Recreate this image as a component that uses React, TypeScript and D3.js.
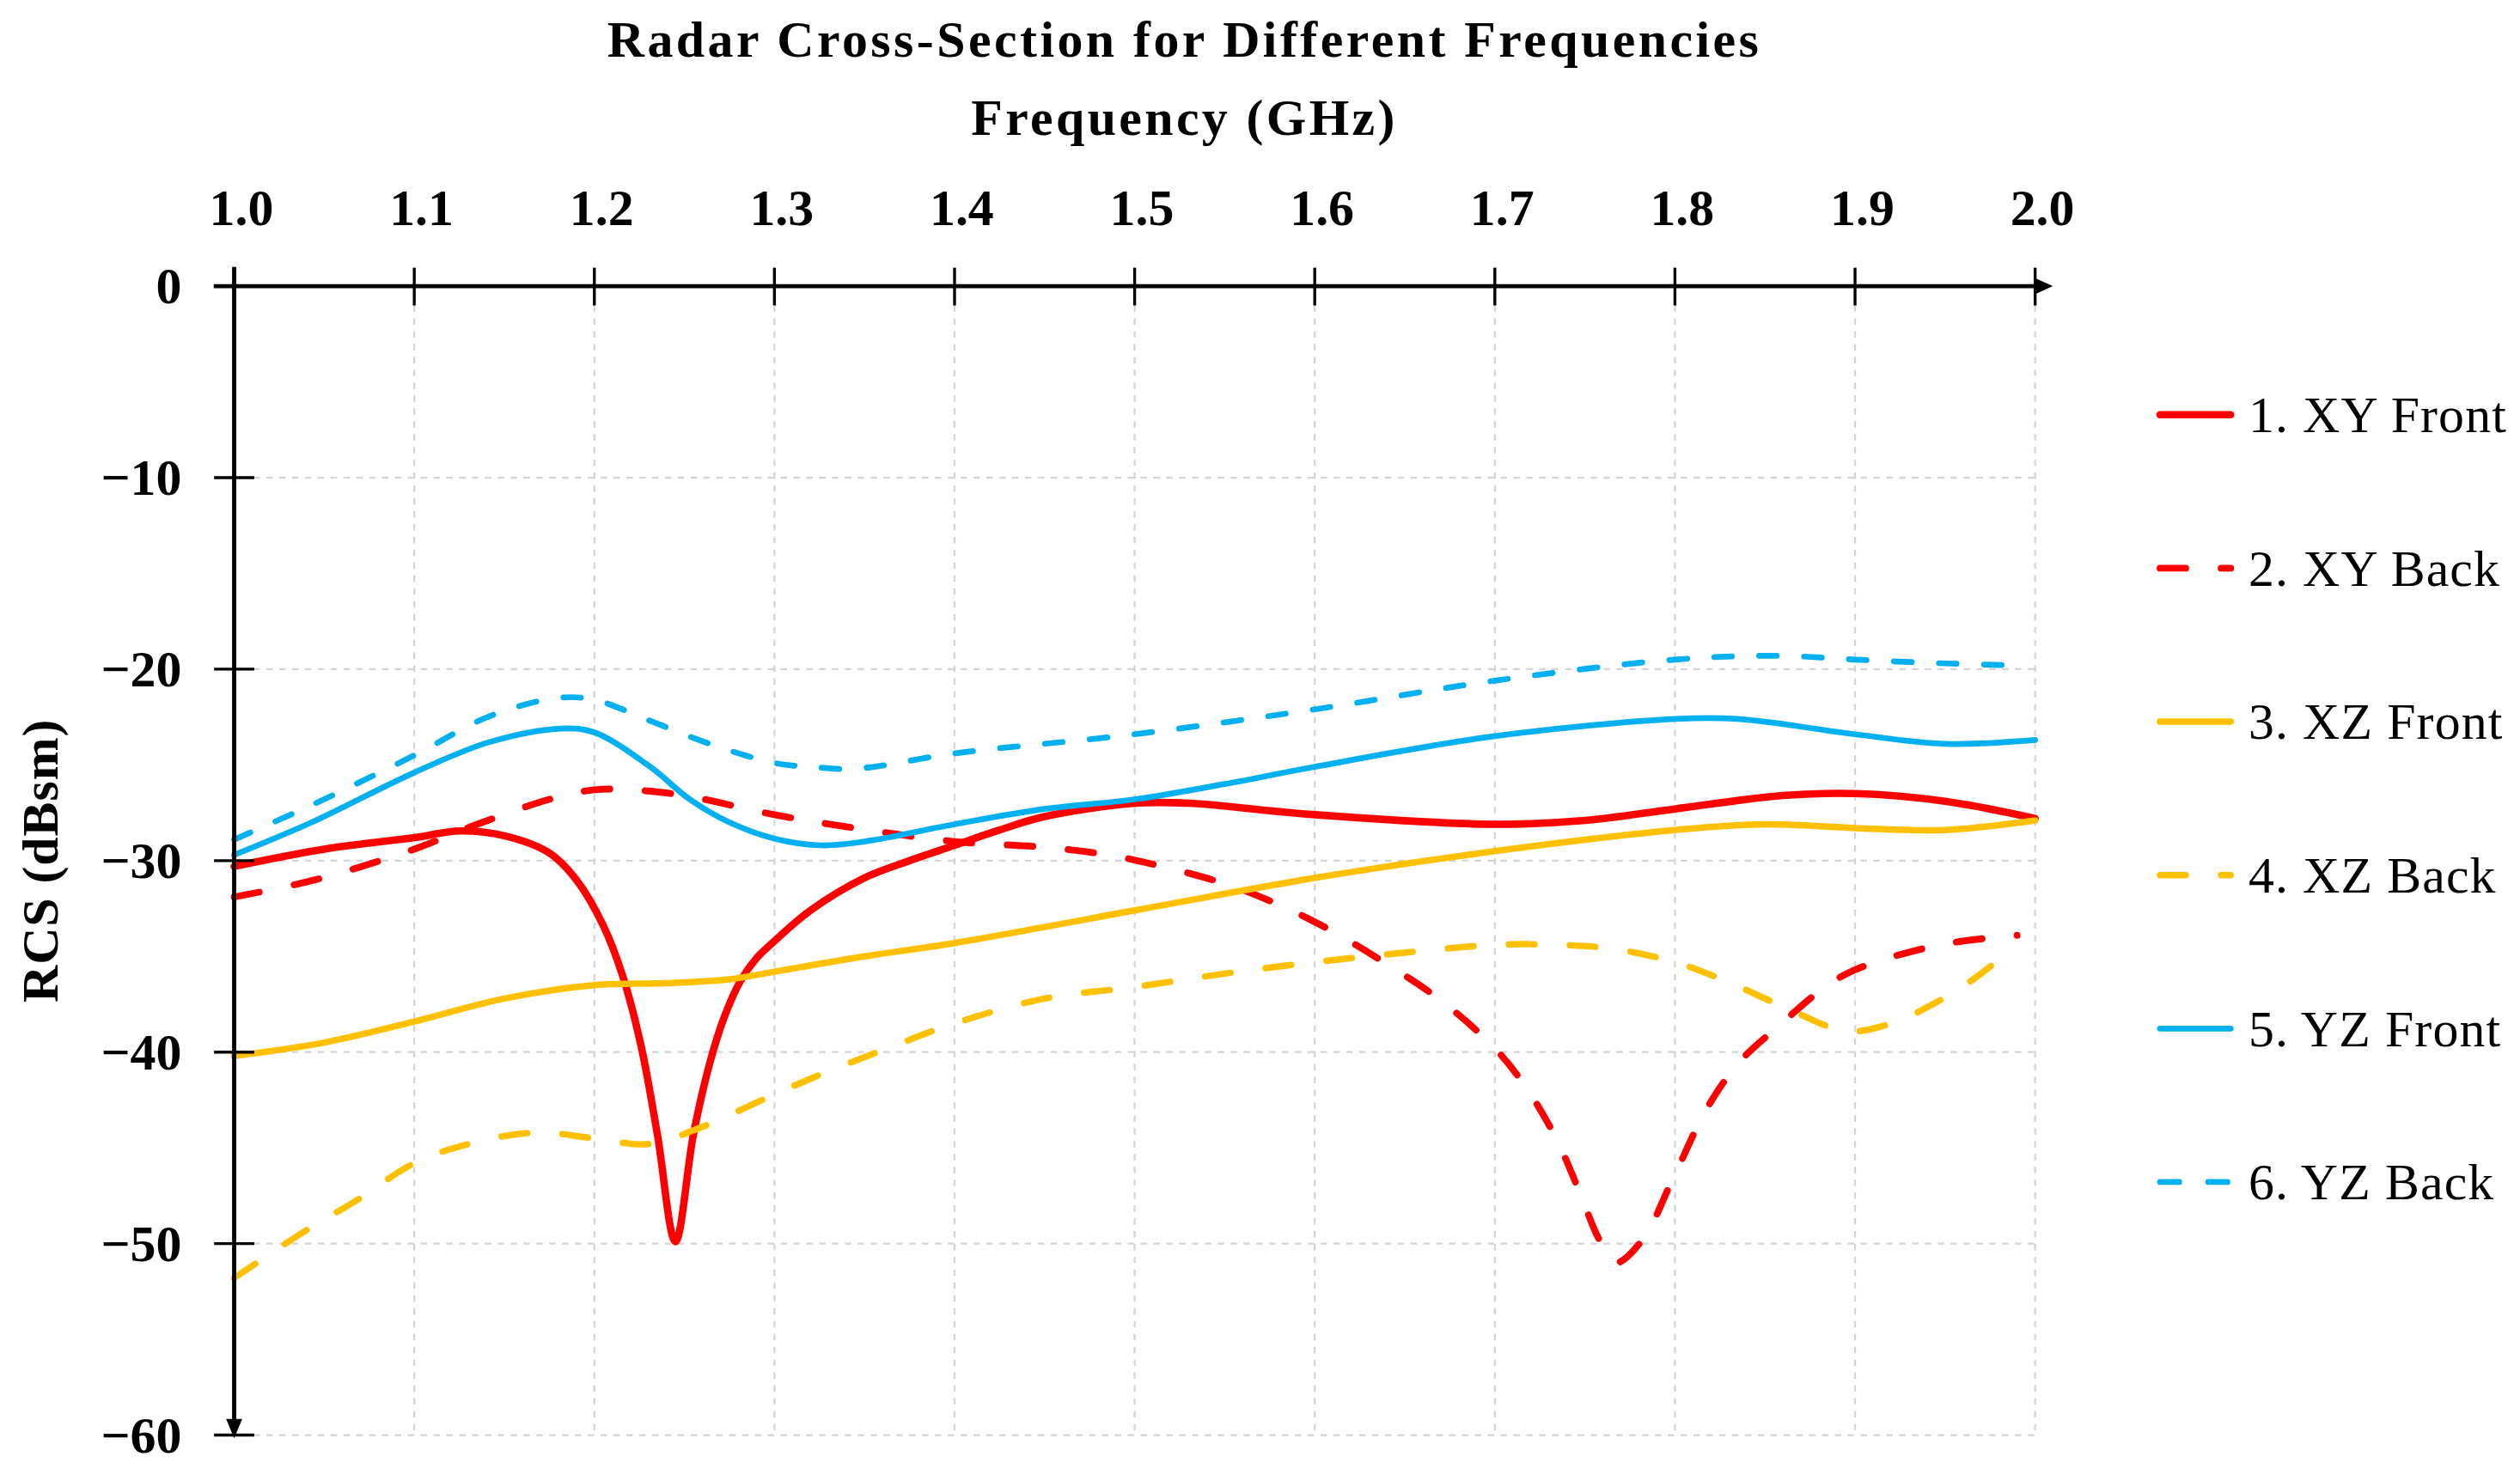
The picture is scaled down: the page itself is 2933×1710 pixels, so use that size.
import { useEffect, useRef } from 'react'
import * as d3 from 'd3'

type Pt = [number, number] // [frequency GHz, RCS dBsm]

const freqTicks = [1.0, 1.1, 1.2, 1.3, 1.4, 1.5, 1.6, 1.7, 1.8, 1.9, 2.0]
const rcsTicks = [0, -10, -20, -30, -40, -50, -60]

const xyFront: Pt[] = [
  [1.0, -30.3], [1.05, -29.4], [1.1, -28.8], [1.125, -28.45], [1.15, -28.7],
  [1.175, -29.6], [1.19, -31.0], [1.205, -33.4], [1.216, -36.1], [1.226, -39.7],
  [1.235, -44.3], [1.245, -49.9], [1.255, -44.3], [1.264, -40.6], [1.272, -38.2],
  [1.281, -36.3], [1.29, -35.1], [1.3, -34.2], [1.32, -32.6], [1.35, -30.9],
  [1.375, -30.0], [1.4, -29.2], [1.425, -28.4], [1.45, -27.7], [1.5, -27.0],
  [1.53, -27.0], [1.6, -27.6], [1.7, -28.1], [1.75, -27.9], [1.8, -27.3],
  [1.86, -26.6], [1.9, -26.5], [1.95, -26.9], [2.0, -27.8],
]

const xyBack: Pt[] = [
  [1.0, -31.9], [1.045, -31.0], [1.1, -29.4], [1.135, -28.1], [1.175, -26.8],
  [1.2, -26.3], [1.22, -26.3], [1.25, -26.6], [1.3, -27.6], [1.345, -28.3],
  [1.4, -29.0], [1.45, -29.3], [1.485, -29.7], [1.515, -30.3], [1.55, -31.2],
  [1.58, -32.3], [1.61, -33.7], [1.64, -35.4], [1.67, -37.3], [1.7, -39.8],
  [1.717, -41.8], [1.734, -44.5], [1.747, -47.3], [1.758, -49.8], [1.767, -51.0],
  [1.782, -49.8], [1.798, -46.8], [1.818, -42.9], [1.836, -40.5], [1.858, -38.6],
  [1.882, -36.7], [1.9, -35.7], [1.947, -34.4], [1.99, -33.9],
]

const xzFront: Pt[] = [
  [1.0, -40.2], [1.05, -39.5], [1.1, -38.4], [1.15, -37.2], [1.2, -36.5],
  [1.24, -36.4], [1.275, -36.2], [1.3, -35.8], [1.35, -35.0], [1.4, -34.3],
  [1.5, -32.6], [1.6, -30.9], [1.7, -29.5], [1.8, -28.4], [1.85, -28.1],
  [1.9, -28.3], [1.95, -28.4], [2.0, -27.9],
]

const xzBack: Pt[] = [
  [1.0, -51.8], [1.04, -49.3], [1.067, -47.8], [1.1, -45.8], [1.13, -44.8],
  [1.167, -44.2], [1.2, -44.5], [1.23, -44.8], [1.26, -43.9], [1.3, -42.2],
  [1.33, -41.0], [1.36, -39.9], [1.4, -38.5], [1.45, -37.2], [1.5, -36.6],
  [1.55, -35.9], [1.6, -35.3], [1.64, -34.9], [1.7, -34.4], [1.736, -34.4],
  [1.765, -34.6], [1.8, -35.3], [1.831, -36.4], [1.862, -37.7], [1.895, -38.9],
  [1.92, -38.5], [1.947, -37.3], [1.97, -35.9], [1.99, -34.3],
]

const yzFront: Pt[] = [
  [1.0, -29.7], [1.043, -28.0], [1.1, -25.4], [1.142, -23.8], [1.182, -23.1],
  [1.2, -23.3], [1.231, -25.1], [1.253, -26.8], [1.275, -28.0], [1.3, -28.85],
  [1.326, -29.2], [1.35, -29.0], [1.4, -28.1], [1.45, -27.3], [1.5, -26.8],
  [1.55, -26.0], [1.6, -25.1], [1.7, -23.5], [1.8, -22.6], [1.835, -22.6],
  [1.9, -23.4], [1.95, -23.9], [2.0, -23.7],
]

const yzBack: Pt[] = [
  [1.0, -28.9], [1.043, -27.1], [1.1, -24.5], [1.142, -22.45], [1.18, -21.5],
  [1.2, -21.6], [1.231, -22.7], [1.264, -23.9], [1.3, -24.9], [1.32, -25.1],
  [1.345, -25.2], [1.4, -24.4], [1.5, -23.4], [1.6, -22.1], [1.7, -20.6],
  [1.8, -19.5], [1.857, -19.3], [1.9, -19.5], [1.95, -19.7], [1.99, -19.8],
]

const seriesNames = ['1. XY Front', '2. XY Back', '3. XZ Front', '4. XZ Back', '5. YZ Front', '6. YZ Back']

const RED = '#ff0000'
const GOLD = '#ffc000'
const BLUE = '#00b0f0'

const series = [
  { name: seriesNames[0], data: xyFront, color: RED, width: 4.6, dash: null, legendDash: null },
  { name: seriesNames[1], data: xyBack, color: RED, width: 4.2, dash: '16 22', legendDash: '16 22' },
  { name: seriesNames[2], data: xzFront, color: GOLD, width: 4.0, dash: null, legendDash: null },
  { name: seriesNames[3], data: xzBack, color: GOLD, width: 4.0, dash: '16 22', legendDash: '16 22' },
  { name: seriesNames[4], data: yzFront, color: BLUE, width: 3.6, dash: null, legendDash: null },
  { name: seriesNames[5], data: yzBack, color: BLUE, width: 3.6, dash: '11 17', legendDash: '12 18' },
]

const FONT = "'Palatino Linotype', 'Book Antiqua', Palatino, 'Liberation Serif', serif"

export default function App() {
  const svgRef = useRef<SVGSVGElement>(null)

  useEffect(() => {
    if (!svgRef.current) return
    const vw = 1568
    const vh = 914

    const svg = d3.select(svgRef.current)
    svg.selectAll('*').remove()
    svg
      .attr('width', 2933)
      .attr('height', 1710)
      .attr('viewBox', `0 0 ${vw} ${vh}`)
      .style('position', 'absolute')
      .style('left', '0px')
      .style('top', '0px')
      .style('background', '#ffffff')

    const x = d3.scaleLinear().domain([1.0, 2.0]).range([145.7, 1266.3])
    const y = d3.scaleLinear().domain([0, -60]).range([178, 893])

    const g = svg.append('g').attr('font-family', FONT)

    // Titles
    g.append('text')
      .attr('x', 737)
      .attr('y', 35)
      .attr('text-anchor', 'middle')
      .attr('font-size', 32)
      .attr('font-weight', 700)
      .attr('letter-spacing', 1.85)
      .text('Radar Cross-Section for Different Frequencies')

    g.append('text')
      .attr('x', 737)
      .attr('y', 84)
      .attr('text-anchor', 'middle')
      .attr('font-size', 32)
      .attr('font-weight', 700)
      .attr('letter-spacing', 1.8)
      .text('Frequency (GHz)')

    g.append('text')
      .attr('transform', `translate(36,${(y(-25) + y(-35)) / 2}) rotate(-90)`)
      .attr('text-anchor', 'middle')
      .attr('font-size', 32)
      .attr('font-weight', 700)
      .attr('letter-spacing', 0.5)
      .text('RCS (dBsm)')

    // Grid
    const grid = g.append('g').attr('stroke', '#d4d4d4').attr('stroke-width', 1.2).attr('stroke-dasharray', '4 4')
    grid
      .selectAll('line.vg')
      .data(freqTicks.slice(1))
      .join('line')
      .attr('x1', (d) => x(d))
      .attr('x2', (d) => x(d))
      .attr('y1', y(0) + 12)
      .attr('y2', y(-60))
    grid
      .selectAll('line.hg')
      .data(rcsTicks.slice(1))
      .join('line')
      .attr('x1', x(1.0) + 12)
      .attr('x2', x(2.0))
      .attr('y1', (d) => y(d))
      .attr('y2', (d) => y(d))

    // Series
    const line = d3
      .line<Pt>()
      .x((d) => x(d[0]))
      .y((d) => y(d[1]))
      .curve(d3.curveCatmullRom.alpha(0.5))

    series.forEach((s) => {
      g.append('path')
        .datum(s.data)
        .attr('d', line)
        .attr('fill', 'none')
        .attr('stroke', s.color)
        .attr('stroke-width', s.width)
        .attr('stroke-linecap', 'round')
        .attr('stroke-linejoin', 'round')
        .attr('stroke-dasharray', s.dash)
    })

    // Axes
    const axis = g.append('g').attr('stroke', '#000')
    axis.append('line')
      .attr('x1', 133).attr('x2', x(2.0) + 2)
      .attr('y1', y(0)).attr('y2', y(0))
      .attr('stroke-width', 2.6)
    axis.append('path')
      .attr('d', `M${x(2.0)},${y(0) - 5} L${x(2.0) + 11},${y(0)} L${x(2.0)},${y(0) + 5} Z`)
      .attr('fill', '#000')
      .attr('stroke', 'none')
    axis.append('line')
      .attr('x1', x(1.0)).attr('x2', x(1.0))
      .attr('y1', y(0) - 12).attr('y2', y(-60) - 4)
      .attr('stroke-width', 2.6)
    axis.append('path')
      .attr('d', `M${x(1.0) - 5},${y(-60) - 10} L${x(1.0)},${y(-60) + 2} L${x(1.0) + 5},${y(-60) - 10} Z`)
      .attr('fill', '#000')
      .attr('stroke', 'none')

    axis.selectAll('line.xt')
      .data(freqTicks.slice(1))
      .join('line')
      .attr('x1', (d) => x(d)).attr('x2', (d) => x(d))
      .attr('y1', y(0) - 11.5).attr('y2', y(0) + 12)
      .attr('stroke-width', 1.8)
    axis.selectAll('line.yt')
      .data(rcsTicks.slice(1))
      .join('line')
      .attr('x1', x(1.0) - 12.5).attr('x2', x(1.0) + 12.5)
      .attr('y1', (d) => y(d)).attr('y2', (d) => y(d))
      .attr('stroke-width', 1.8)

    // Tick labels
    g.append('g')
      .selectAll('text')
      .data(freqTicks)
      .join('text')
      .attr('x', (d) => x(d) + 4.5)
      .attr('y', 140)
      .attr('text-anchor', 'middle')
      .attr('font-size', 32)
      .attr('font-weight', 700)
      .text((d) => d3.format('.1f')(d))

    g.append('g')
      .selectAll('text')
      .data(rcsTicks)
      .join('text')
      .attr('x', 113)
      .attr('y', (d) => y(d))
      .attr('dy', '0.34em')
      .attr('text-anchor', 'end')
      .attr('font-size', 32)
      .attr('font-weight', 700)
      .text((d) => (d < 0 ? `\u2212${Math.abs(d)}` : `${d}`))

    // Legend
    const legend = g.append('g')
    series.forEach((s, i) => {
      const ly = 258 + i * 95.5
      legend.append('line')
        .attr('x1', 1344).attr('x2', 1388)
        .attr('y1', ly).attr('y2', ly)
        .attr('stroke', s.color)
        .attr('stroke-width', s.width)
        .attr('stroke-linecap', 'round')
        .attr('stroke-dasharray', s.legendDash)
      legend.append('text')
        .attr('x', 1399)
        .attr('y', ly)
        .attr('dy', '0.34em')
        .attr('font-size', 32)
        .attr('letter-spacing', 0.6)
        .text(s.name)
    })
  }, [])

  return <svg ref={svgRef}></svg>
}
